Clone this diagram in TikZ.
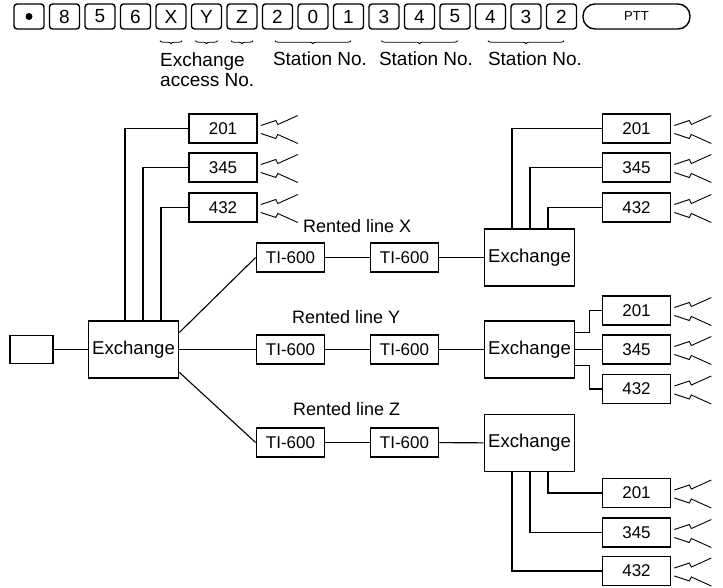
\documentclass[tikz,border=0pt]{standalone}
\usepackage{fontspec}
\setmainfont{Liberation Sans}
\usetikzlibrary{calc,decorations.pathreplacing}
\newcommand\boltpair[1]{%
  \draw[bolt] ($(#1.east)+(3,-3)$) -- ++(15,-5) -- ++(2,4) -- ++(20,-9);
  \draw[bolt] ($(#1.east)+(3,5)$) -- ++(15,5) -- ++(2,-4) -- ++(20,9);
}
\begin{document}
\begin{tikzpicture}[x=1pt,y=-1pt,
  box/.style={draw, line width=1.7pt, minimum width=68pt, minimum height=29pt, inner sep=0pt, font=\fontsize{17}{17}\selectfont},
  exch/.style={draw, line width=1.7pt, minimum width=90pt, minimum height=57pt, inner sep=0pt, font=\fontsize{18.6}{19}\selectfont},
  conn/.style={line width=1.1pt},
  bolt/.style={line width=0.9pt},
  keybox/.style={draw, line width=1.4pt, rounded corners=3pt, minimum width=30pt, minimum height=25pt, inner sep=0pt, font=\fontsize{19}{19}\selectfont},
  lbl/.style={font=\fontsize{18}{18}\selectfont, inner sep=0pt},
  hdr/.style={font=\fontsize{19}{19}\selectfont, inner sep=0pt},
  brc/.style={line width=0.8pt, decorate, decoration={brace, mirror, amplitude=3pt}},
]
\useasboundingbox (0,0) rectangle (723,587);

% ---------- header keys ----------
\node[keybox] (k0) at (29,16.5) {};
\fill (k0.center) circle (3.5pt);
\foreach \t [count=\i from 1] in {8,5,6,X,Y,Z,2,0,1,3,4,5,4,3,2}{
  \node[keybox] (k\i) at (29+35.5*\i,16.5) {\t};
}
\node[draw, line width=1.4pt, rounded corners=12pt, minimum width=107pt, minimum height=25pt,
      inner sep=0pt, font=\fontsize{13}{13}\selectfont] (ptt) at (636.5,16.5) {PTT};

\draw[brc] ([xshift=-11pt,yshift=-11pt]k4.south) -- ([xshift=11pt,yshift=-11pt]k4.south);
\draw[brc] ([xshift=-11pt,yshift=-11pt]k5.south) -- ([xshift=11pt,yshift=-11pt]k5.south);
\draw[brc] ([xshift=-11pt,yshift=-11pt]k6.south) -- ([xshift=11pt,yshift=-11pt]k6.south);
\draw[brc] ([xshift=-38pt,yshift=-11pt]k8.south) -- ([xshift=38pt,yshift=-11pt]k8.south);
\draw[brc] ([xshift=-38pt,yshift=-11pt]k11.south) -- ([xshift=38pt,yshift=-11pt]k11.south);
\draw[brc] ([xshift=-38pt,yshift=-11pt]k14.south) -- ([xshift=38pt,yshift=-11pt]k14.south);

\node[hdr, anchor=base west] (hx1) at (160,66) {Exchange};
\node[hdr, anchor=base west] (hx2) at (160,86) {access No.};
\node[hdr, anchor=base] (hs1) at (320,65) {Station No.};
\node[hdr, anchor=base] (hs2) at (426,65) {Station No.};
\node[hdr, anchor=base] (hs3) at (535,65) {Station No.};

% ---------- main diagram ----------
\node[draw, line width=1.7pt, minimum width=43pt, minimum height=28pt, inner sep=0pt] (L) at (31.5,349.5) {};
\node[exch] (LEx) at (133.5,349.5) {Exchange};

\node[box] (s1) at (223,128.5) {201};
\node[box] (s2) at (223,167.5) {345};
\node[box] (s3) at (223,207.5) {432};

\node[box] (t1) at (290.5,257.5) {TI-600};
\node[box] (t2) at (290.5,349.5) {TI-600};
\node[box] (t3) at (290.5,442.5) {TI-600};
\node[box] (u1) at (404.5,257.5) {TI-600};
\node[box] (u2) at (404.5,349.5) {TI-600};
\node[box] (u3) at (404.5,442.5) {TI-600};

\node[exch] (R1) at (529.5,257.5) {Exchange};
\node[exch] (R2) at (529.5,349.5) {Exchange};
\node[exch] (R3) at (529.5,443) {Exchange};

\node[box] (a1) at (636.5,128.5) {201};
\node[box] (a2) at (636.5,167.5) {345};
\node[box] (a3) at (636.5,207.5) {432};
\node[box] (b1) at (636.5,310.5) {201};
\node[box] (b2) at (636.5,349.5) {345};
\node[box] (b3) at (636.5,389) {432};
\node[box] (c1) at (636.5,493) {201};
\node[box] (c2) at (636.5,532.5) {345};
\node[box] (c3) at (636.5,571) {432};

\node[lbl, anchor=base west] (lx) at (303,232) {Rented line X};
\node[lbl, anchor=base west] (ly) at (292,323) {Rented line Y};
\node[lbl, anchor=base west] (lz) at (293,415) {Rented line Z};

% connectors
\draw[conn] (L) -- (LEx);
\draw[conn] ([xshift=-8.5pt]LEx.north) |- (s1.west);
\draw[conn] ([xshift=9.5pt]LEx.north) |- (s2.west);
\draw[conn] ([xshift=27.5pt]LEx.north) |- (s3.west);

\draw[conn] ($(LEx.north east)!0.21!(LEx.south east)$) -- (t1.west);
\draw[conn] (LEx) -- (t2);
\draw[conn] ($(LEx.north east)!0.89!(LEx.south east)$) -- (t3.west);

\draw[conn] (t1) -- (u1);  \draw[conn] (u1) -- (R1);
\draw[conn] (t2) -- (u2);  \draw[conn] (u2) -- (R2);
\draw[conn] (t3) -- (u3);  \draw[conn] (u3) -- (R3);

\draw[conn] ([xshift=-17.5pt]R1.north) |- (a1.west);
\draw[conn] ([xshift=0.5pt]R1.north) |- (a2.west);
\draw[conn] ([xshift=18.5pt]R1.north) |- (a3.west);

\draw[conn] ([yshift=17pt]R2.east) -- ++(14,0) |- (b1.west);
\draw[conn] (R2) -- (b2);
\draw[conn] ([yshift=-16pt]R2.east) -- ++(14,0) |- (b3.west);

\draw[conn] ([xshift=18.5pt]R3.south) |- (c1.west);
\draw[conn] ([xshift=0.5pt]R3.south) |- (c2.west);
\draw[conn] ([xshift=-17.5pt]R3.south) |- (c3.west);

% radio symbols
\foreach \n in {s1,s2,s3,a1,a2,a3,b1,b2,b3,c1,c2,c3}{\boltpair{\n}}
\end{tikzpicture}
\end{document}
